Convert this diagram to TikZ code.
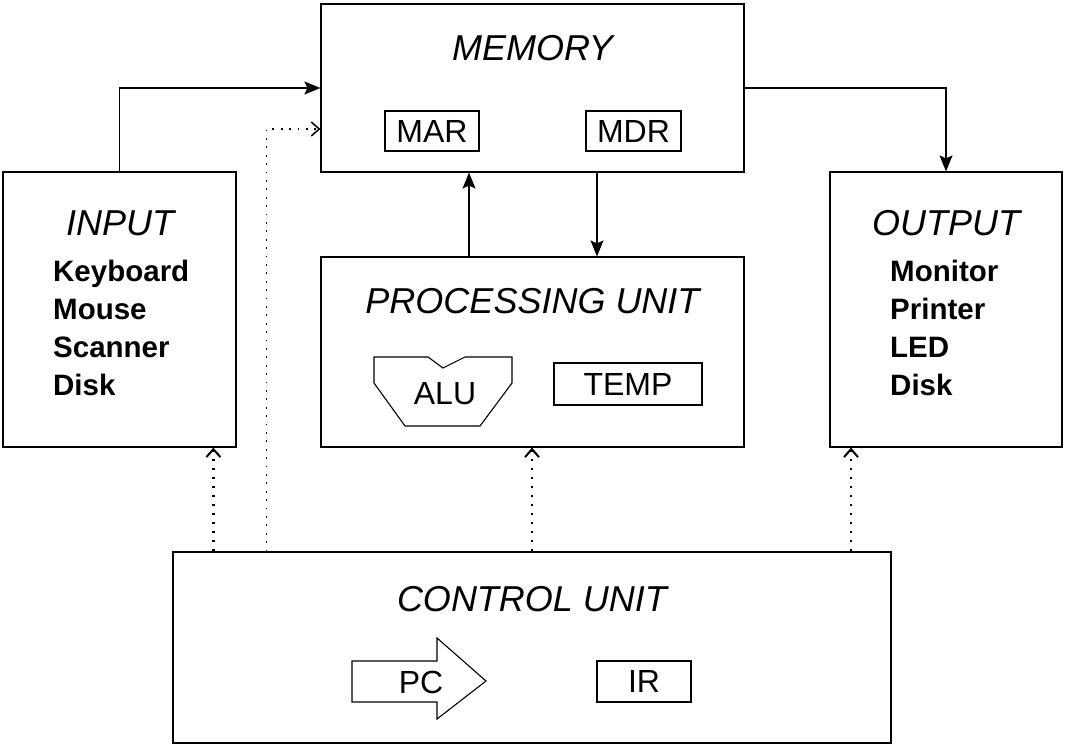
\documentclass[tikz,border=0pt]{standalone}
\usepackage{fontspec}
\setmainfont{Liberation Sans}
\usetikzlibrary{arrows.meta,calc}
\begin{document}
\begin{tikzpicture}[x=1pt,y=-1pt,
  box/.style={draw,line width=1.2pt,rectangle,inner sep=0pt},
  lbl/.style={box,font=\fontsize{32}{34}\selectfont},
  ttl/.style={anchor=base,inner sep=0pt,font=\fontsize{36}{40}\selectfont\itshape},
  items/.style={anchor=base west,inner sep=0pt,align=left,font=\fontsize{29.5}{37.7}\selectfont\bfseries},
  conn/.style={line width=1.2pt,-{Stealth[length=16pt,width=13pt,inset=3pt]}},
  ctl/.style={line width=2.4pt,dash pattern=on 2.4pt off 6.6pt,-{Straight Barb[length=8pt,width=14pt,line width=2pt]}},
  ctlthin/.style={line width=1.8pt,dash pattern=on 1.8pt off 6.6pt,-{Straight Barb[length=8pt,width=14pt,line width=1.5pt]}}
]
\useasboundingbox (0,0) rectangle (1065,747);
% main boxes
\node[box,minimum width=423pt,minimum height=168pt] (mem) at (532.5,88) {};
\node[box,minimum width=233pt,minimum height=275pt] (inp) at (119.5,309.5) {};
\node[box,minimum width=232pt,minimum height=275pt] (out) at (946,309.5) {};
\node[box,minimum width=423pt,minimum height=190pt] (pu) at (532.5,352) {};
\node[box,minimum width=718pt,minimum height=191pt] (cu) at (532,647.5) {};
% titles
\node[ttl] (memt) at (532.5,60) {MEMORY};
\node[ttl] (inpt) at (120,235) {INPUT};
\node[ttl] (outt) at (946,235) {OUTPUT};
\node[ttl] (put) at (532.5,313) {PROCESSING UNIT};
\node[ttl] (cut) at (532,611) {CONTROL UNIT};
% items
\node[items] (inpi) at (53,395) {Keyboard\\Mouse\\Scanner\\Disk};
\node[items] (outi) at (890,395) {Monitor\\Printer\\LED\\Disk};
% registers
\node[lbl,minimum width=94pt,minimum height=40pt] (mar) at (432,131) {MAR};
\node[lbl,minimum width=95pt,minimum height=40pt] (mdr) at (633.5,131) {MDR};
\node[lbl,minimum width=148pt,minimum height=42pt] (temp) at (628,384) {TEMP};
\node[lbl,minimum width=94pt,minimum height=41pt] (ir) at (644,681.5) {IR};
% ALU shape
\draw[line width=1.1pt] (374,357) -- (428,357) -- (443,368) -- (465,357) -- (512,357) -- (512,383) -- (480,426) -- (405,426) -- (374,383) -- cycle;
\node[anchor=base,inner sep=0pt,font=\fontsize{32}{34}\selectfont] (alu) at (445,404) {ALU};
% PC arrow shape
\draw[line width=1.1pt] (352,661) -- (437,661) -- (437,638) -- (486,681) -- (437,719) -- (437,702) -- (352,702) -- cycle;
\node[anchor=base,inner sep=0pt,font=\fontsize{32}{34}\selectfont] (pc) at (421,693) {PC};
% data connectors
\coordinate (a1) at ([xshift=117pt]inp.north west);
\draw[conn] (a1) |- (mem.west);
\draw[conn] (mem.east) -| (out.north);
\coordinate (a2) at ([xshift=64.5pt]mem.south);
\draw[conn] (a2) -- (a2 |- pu.north);
\coordinate (a3) at ([xshift=-63.5pt]pu.north);
\draw[conn] (a3) -- (a3 |- mem.south);
% control connectors
\coordinate (c0) at ([xshift=94pt]cu.north west);
\coordinate (m0) at ([yshift=-41pt]mem.west);
\draw[ctlthin] (c0) |- (m0);
\coordinate (c1) at ([xshift=41pt]cu.north west);
\draw[ctl] (c1) -- (c1 |- inp.south);
\draw[ctl] (cu.north) -- (cu.north |- pu.south);
\coordinate (c3) at ([xshift=-95pt]out.south);
\draw[ctl] (c3 |- cu.north) -- (c3);
\end{tikzpicture}
\end{document}
